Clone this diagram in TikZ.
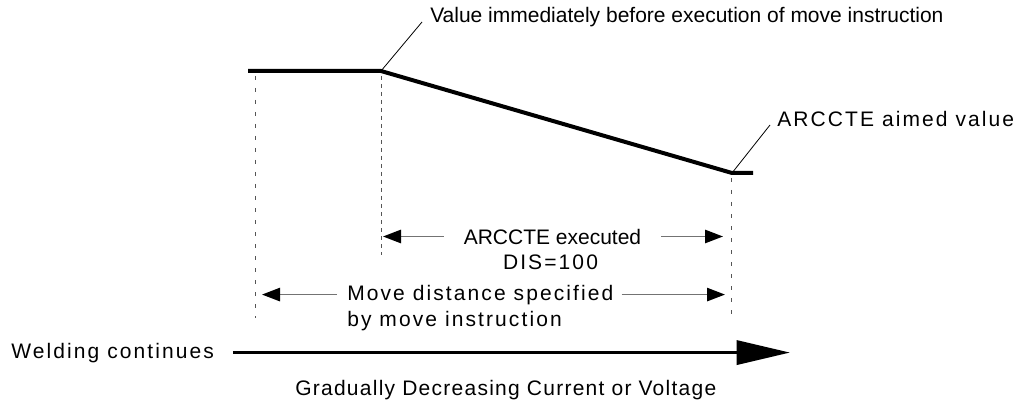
\documentclass[tikz,border=0pt]{standalone}
\usepackage{fontspec}
\setmainfont{Liberation Sans}
\newfontfamily\spacedfont[LetterSpace=10]{Liberation Sans}
\newfontfamily\lightspaced[LetterSpace=6]{Liberation Sans}
\usetikzlibrary{arrows.meta,positioning}
\definecolor{GuideGray}{RGB}{85,85,85}
\definecolor{ShaftGray}{RGB}{115,115,115}
\tikzset{
  level/.style={line width=3pt},
  guide/.style={GuideGray,line width=0.7pt,dash pattern=on 3pt off 6pt},
  guideshort/.style={GuideGray,line width=0.7pt,dash pattern=on 3pt off 3pt},
  leader/.style={line width=0.6pt},
  dimarrow/.style={ShaftGray,line width=1.3pt,
    -{Triangle[length=13.5pt,width=10pt,color=black]}},
  flow/.style={line width=2.6pt,-{Triangle[length=40pt,width=18pt]}},
  lbl/.style={font=\fontsize{15.75}{19}\selectfont,inner sep=0pt},
  widelbl/.style={lbl,font=\spacedfont\fontsize{15.75}{19}\selectfont}
}

\begin{document}
\begin{tikzpicture}[x=0.75pt,y=-0.75pt]
  \useasboundingbox (0,0) rectangle (1026,403);
  % value curve
  \coordinate (start) at (248,71);
  \coordinate (bend) at (381,71);
  \coordinate (aim) at (732,173);
  \coordinate (tail) at (753,173);
  \draw[level] (start) -- (bend) -- (aim) -- (tail);

  % guide lines
  \coordinate (g1top) at (255,76);
  \coordinate (g1bot) at (255,318);
  \coordinate (g2top) at (381,76);
  \coordinate (g2bot) at (381,255);
  \coordinate (g3top) at (731,178);
  \coordinate (g3bot) at (731,318);
  \draw[guide] (g1top) -- (g1bot);
  \draw[guideshort] (g2top) -- (g2bot);
  \draw[guide] (g3top) -- (g3bot);

  % callouts
  \node[lbl,anchor=base west] (val) at (430,23)
    {Value immediately before execution of move instruction};
  \coordinate (valtip) at (422,22);
  \draw[leader] (bend) -- (valtip);
  \node[widelbl,anchor=base west] (aimed) at (777,127) {ARCCTE aimed value};
  \coordinate (aimtip) at (770,125);
  \draw[leader] (aim) -- (aimtip);

  % dimensions
  \node[lbl,anchor=base,inner xsep=15pt] (exe) at (552.5,244) {ARCCTE executed};
  \node[widelbl,anchor=base] (dis) at (550.5,269) {DIS=100};
  \coordinate (exeL) at (383,237);
  \coordinate (exeR) at (723,237);
  \draw[dimarrow] (exe.west) -- (exe.west -| exeL);
  \draw[dimarrow] (exe.east) -- (exe.east -| exeR);

  \node[widelbl,anchor=base west] (mv) at (347,300) {Move distance specified};
  \node[widelbl,anchor=base west] (by) at (347,326) {by move instruction};
  \coordinate (mvL) at (262,296);
  \coordinate (mvR) at (725,296);
  \draw[dimarrow,shorten <=7.5pt] (mv.west) -- (mv.west -| mvL);
  \draw[dimarrow,shorten <=6pt] (mv.east) -- (mv.east -| mvR);

  % welding flow
  \node[widelbl,anchor=base west] (weld) at (11,358) {Welding continues};
  \coordinate (flowend) at (790,352);
  \draw[flow,shorten <=14pt] (weld.east) -- (weld.east -| flowend);
  \node[lbl,font=\lightspaced\fontsize{15.75}{19}\selectfont,anchor=base west]
    (grad) at (295,395) {Gradually Decreasing Current or Voltage};
\end{tikzpicture}
\end{document}
